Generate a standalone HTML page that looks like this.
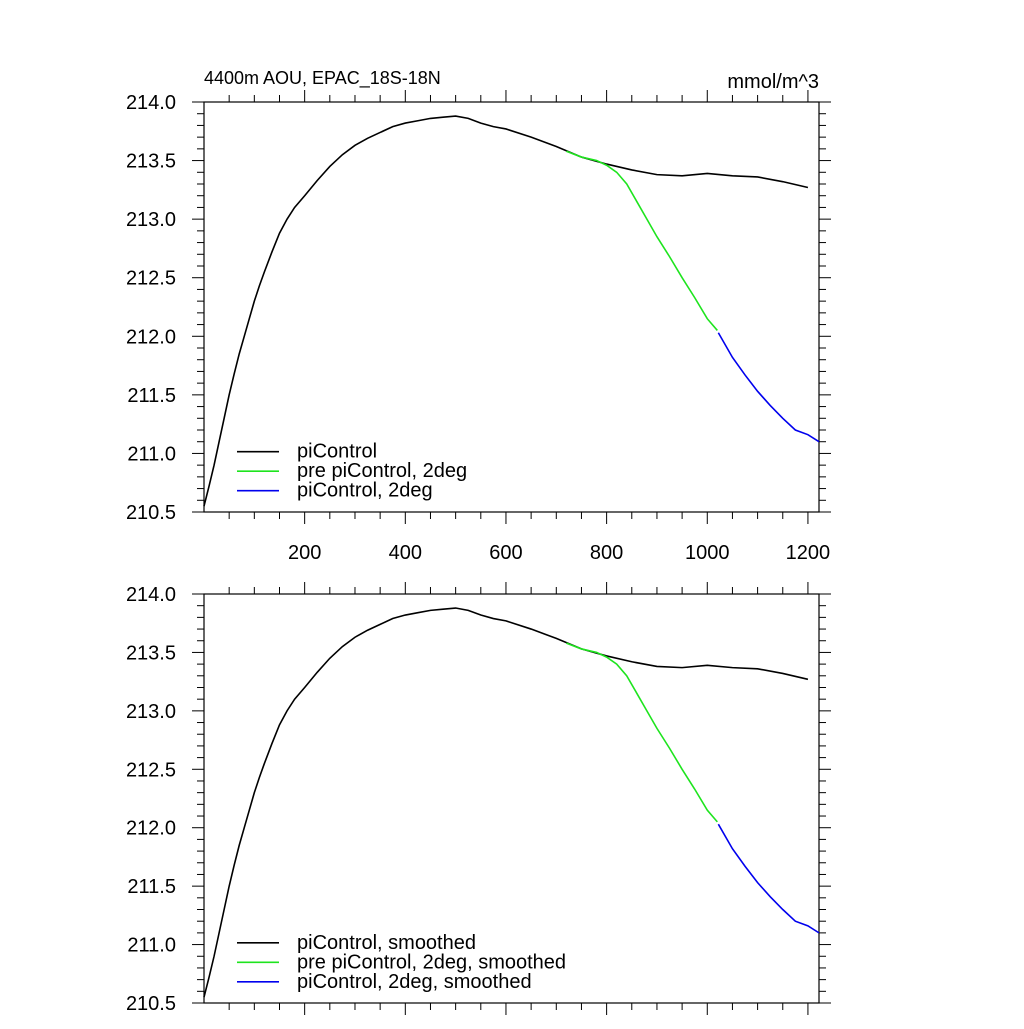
<!DOCTYPE html>
<html><head><meta charset="utf-8"><style>
body{margin:0;background:#fff}
text{font-family:"Liberation Sans",sans-serif;fill:#000}
</style></head><body>
<svg id="c" width="1024" height="1024" xmlns="http://www.w3.org/2000/svg"></svg>
<script>
const xTicks=[200,400,600,800,1000,1200];
const yTicks=[210.5,211.0,211.5,212.0,212.5,213.0,213.5,214.0];
const ctrlX=[0,10,20,30,40,50,60,70,80,90,100,110,120,135,150,165,180,200,225,250,275,300,325,350,375,400,425,450,475,500,525,550,575,600,650,700,750,800,850,900,950,1000,1050,1100,1150,1200];
const ctrlY=[210.55,210.72,210.9,211.1,211.3,211.5,211.68,211.85,212.0,212.15,212.3,212.43,212.55,212.72,212.88,213.0,213.1,213.2,213.33,213.45,213.55,213.63,213.69,213.74,213.79,213.82,213.84,213.86,213.87,213.88,213.86,213.82,213.79,213.77,213.7,213.62,213.53,213.47,213.42,213.38,213.37,213.39,213.37,213.36,213.32,213.27];
const preX=[720,750,780,800,820,840,860,880,900,925,950,975,1000,1020];
const preY=[213.58,213.53,213.5,213.46,213.4,213.3,213.15,213.0,212.85,212.68,212.5,212.33,212.15,212.05];
const blueX=[1022,1050,1075,1100,1125,1150,1175,1200,1222];
const blueY=[212.03,211.82,211.67,211.53,211.41,211.3,211.2,211.16,211.1];
const legendTop=["piControl","pre piControl, 2deg","piControl, 2deg"];
const legendBot=["piControl, smoothed","pre piControl, 2deg, smoothed","piControl, 2deg, smoothed"];
const svg=document.getElementById('c');
const NS="http://www.w3.org/2000/svg";
function mk(t,a,p){const e=document.createElementNS(NS,t);for(const k in a)e.setAttribute(k,a[k]);(p||svg).appendChild(e);return e;}
const L=204,R=819,XMAX=1222;
function panel(top,bot,labels,legend,name){
  const g=mk('g',{});
  
  
  const sx=v=>L+(v/XMAX)*(R-L);
  const sy=v=>bot-(v-210.5)/3.5*(bot-top);
  const fr=mk('rect',{x:L,y:top,width:R-L,height:bot-top,fill:'none',stroke:'#000','stroke-width':1.2},g);
  
  
  for(let v=50;v<=1200;v+=50){const x=sx(v),len=v%200==0?12:7;
    mk('line',{x1:x,x2:x,y1:bot,y2:bot+len,stroke:'#000'},g);
    mk('line',{x1:x,x2:x,y1:top,y2:top-len,stroke:'#000'},g);}
  for(let i=0;i<=35;i++){const v=210.5+i*0.1,y=sy(v),len=i%5==0?12:7;
    mk('line',{x1:L,x2:L-len,y1:y,y2:y,stroke:'#000'},g);
    mk('line',{x1:R,x2:R+len,y1:y,y2:y,stroke:'#000'},g);}
  yTicks.forEach(v=>{const t=mk('text',{x:L-28,y:sy(v)+7,'text-anchor':'end','font-size':20},g);t.textContent=v.toFixed(1);
    
    });
  if(labels)xTicks.forEach(v=>{const t=mk('text',{x:sx(v),y:bot+47,'text-anchor':'middle','font-size':20},g);t.textContent=v;
    
    });
  const series=[[ctrlX,ctrlY,'#000','picontrol-line'],[preX,preY,'#1ee41e','pre-picontrol-line'],[blueX,blueY,'#0000ee','picontrol-2deg-line']];
  series.forEach(([xs,ys,c,n])=>{const p=mk('polyline',{points:xs.map((x,i)=>sx(x)+','+sy(ys[i])).join(' '),fill:'none',stroke:c,'stroke-width':1.6},g);
    
    });
  legend.forEach((s,i)=>{const y=sy(211.0)-1+i*19.5-0.5*19.5+9;
    mk('line',{x1:237,x2:279,y1:y,y2:y,stroke:series[i][2],'stroke-width':1.6},g);
    const t=mk('text',{x:297,y:y+6,'font-size':20},g);t.textContent=s;
    
    });
}
panel(102,512,true,legendTop,'top-panel');
panel(594,1003,false,legendBot,'bottom-panel');
const t1=mk('text',{x:204,y:84,'font-size':18});t1.textContent="4400m AOU, EPAC_18S-18N";


const t2=mk('text',{x:819,y:88,'font-size':20,'text-anchor':'end'});t2.textContent="mmol/m^3";


</script>
</body></html>
